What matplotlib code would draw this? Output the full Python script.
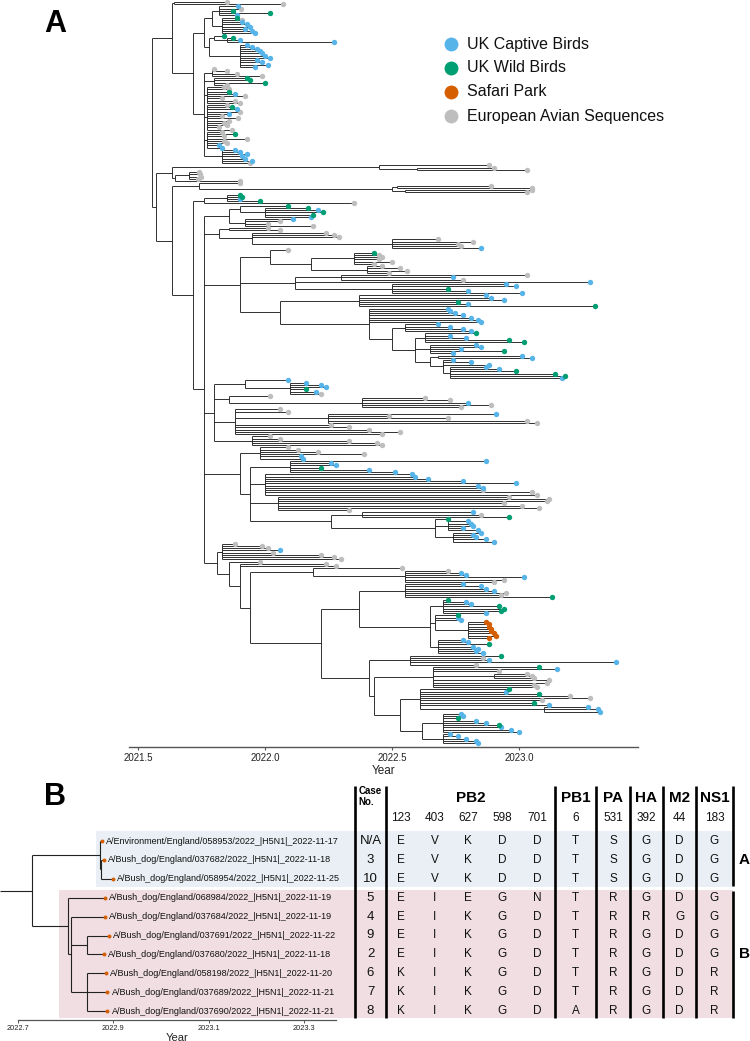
import datetime
import matplotlib
matplotlib.use("Agg")
import matplotlib.pyplot as plt
from matplotlib.collections import LineCollection

plt.rcParams["font.family"] = ["Liberation Sans", "DejaVu Sans"]

# ============================ DATA ============================
LEGEND_LABELS = ["UK Captive Birds", "UK Wild Birds", "Safari Park", "European Avian Sequences"]
CAT_KEYS = ["b", "w", "s", "e"]
CAT_COLORS = {"b": "#56B4E9", "w": "#009E73", "s": "#D55E00", "e": "#BEBEBE"}

TICKS_A = [2021.5, 2022.0, 2022.5, 2023.0]
TICKS_B = [2022.7, 2022.9, 2023.1, 2023.3]

# Panel A tree: internal node = [time, child, ...]; tip = (category, time)
TOP_SMALL = [2021.64, ("e", 2021.85), ("e", 2022.07)]

UPPER_CAPTIVE = [2021.76,
    [2021.79,
        [2021.82, ("b", 2021.895), ("e", 2021.905), ("w", 2021.875), ("w", 2022.02), ("b", 2021.89)],
        [2021.83, ("w", 2021.89), ("e", 2021.91), ("b", 2021.91), ("b", 2021.93), ("b", 2021.94),
                  ("b", 2021.92), ("b", 2021.95), ("b", 2021.96)]],
    [2021.78,
        [2021.80, ("w", 2021.84), [2021.85, ("w", 2021.875), ("b", 2021.90), ("b", 2022.27)]],
        [2021.90, ("b", 2021.93), ("b", 2021.95), ("b", 2021.97), ("b", 2021.98), ("b", 2021.99),
                  ("b", 2022.00), ("b", 2022.02), ("b", 2021.97), ("b", 2021.99), ("b", 2022.01), ("b", 2021.96)]]]

GRAY_CLUSTER = [2021.76,
    [2021.79, ("e", 2021.80), ("e", 2021.85), ("e", 2021.89), ("e", 2021.99)],
    [2021.80, ("w", 2021.93), ("w", 2021.94), ("w", 2022.00), ("e", 2021.85)],
    [2021.77, ("e", 2021.84), ("e", 2021.86), ("w", 2021.86), ("b", 2021.88), ("e", 2021.92),
              ("e", 2021.83), ("e", 2021.88), ("e", 2021.90)],
    [2021.77, ("e", 2021.85), ("w", 2021.87), ("b", 2021.89), ("e", 2021.90), ("b", 2021.86),
              ("e", 2021.83), ("e", 2021.895), ("e", 2021.86), ("e", 2021.84), ("e", 2021.85),
              ("e", 2021.82), ("e", 2021.87)],
    [2021.77, ("e", 2021.83), ("w", 2021.88), ("e", 2021.84), ("e", 2021.93), ("e", 2021.84),
              ("e", 2021.85), ("b", 2021.82), ("b", 2021.83)],
    [2021.83, ("b", 2021.88), ("b", 2021.90), ("b", 2021.93), ("b", 2021.91), ("b", 2021.92),
              ("b", 2021.95), ("e", 2021.94)]]

LONG_GRAY_1 = [2022.45, ("e", 2022.88), [2022.60, ("e", 2022.90), ("e", 2023.03)]]
SMALL_GRAY = [2021.645, [2021.70, ("e", 2021.74), ("e", 2021.745), ("e", 2021.75), ("e", 2021.735)],
              ("e", 2021.90)]
LONG_GRAY_2 = [2021.74, ("e", 2021.90),
               [2022.50, [2022.52, ("e", 2022.89), ("e", 2023.05)], [2022.55, ("e", 2023.05), ("e", 2023.03)]]]
WILD_TOP = [2021.76, [2021.85, ("w", 2021.90), ("w", 2021.91), ("b", 2021.90), ("w", 2021.98)],
            ("e", 2022.35)]

C1A = [2021.86,
       [2021.90, ("w", 2022.09),
        [2022.00, ("w", 2022.17), ("b", 2022.21), ("w", 2022.23), ("w", 2022.19), ("b", 2022.18)]],
       [2021.92, ("b", 2022.11), ("e", 2022.06), ("e", 2022.01), ("e", 2022.19)]]

C1B = [2021.82, [2021.86, ("e", 2022.01), ("e", 2022.06)],
       [2021.95, ("e", 2022.24), ("e", 2022.27), ("e", 2022.29),
        [2022.50, ("e", 2022.68), ("e", 2022.82), ("e", 2022.76), ("e", 2022.77), ("b", 2022.85)]]]

BLUE_C = [2022.50,
    [2022.55, ("b", 2022.68), ("b", 2022.73), ("b", 2022.78), ("b", 2022.81)],
    [2022.59,
        [2022.63, ("w", 2022.83), ("b", 2022.73), ("b", 2022.79), ("w", 2022.96), ("w", 2023.02)],
        [2022.65, ("b", 2022.83), ("b", 2022.85), ("b", 2022.77), ("w", 2022.94), ("b", 2022.74)],
        [2022.65, [2022.68, ("b", 2023.01), ("b", 2023.05)],
         [2022.70, ("b", 2022.74), ("b", 2022.81), ("b", 2022.88),
          [2022.73, ("b", 2022.87), ("b", 2022.92), ("w", 2022.99), ("w", 2023.14), ("w", 2023.18),
           ("b", 2023.17)]]]]]

C2 = [2021.90,
      [2022.02, ("e", 2022.09),
       [2022.18,
        [2022.35, ("w", 2022.43), ("e", 2022.45), ("e", 2022.46), ("e", 2022.45), ("e", 2022.50), ("e", 2022.43)],
        [2022.40, ("e", 2022.46), ("e", 2022.53), ("e", 2022.56), ("e", 2022.49)]]],
      [2022.12, [2022.30, ("e", 2023.03), ("b", 2022.74), ("e", 2022.78)], ("b", 2023.28),
       [2022.50, ("b", 2022.95), ("b", 2022.99), ("w", 2022.72), ("b", 2022.80), ("b", 2023.01)]],
      [2022.06,
       [2022.37, ("b", 2022.87), ("b", 2022.89), ("b", 2022.94), ("w", 2022.76), ("b", 2022.80), ("w", 2023.30)],
       [2022.41, ("b", 2022.72), ("b", 2022.73), ("b", 2022.75), ("b", 2022.78), ("b", 2022.81),
        ("b", 2022.84), ("b", 2022.85), BLUE_C]]]

C3 = [2021.80,
      [2021.92, ("b", 2022.09),
       [2022.10, ("b", 2022.16), ("b", 2022.22), ("b", 2022.24), ("w", 2022.16), ("b", 2022.20), ("e", 2022.22)]],
      [2021.86, ("e", 2022.02),
       [2022.38, ("e", 2022.63), ("e", 2022.73), ("b", 2022.80), ("e", 2022.89), ("e", 2022.77)]],
      [2021.88, ("e", 2022.06), ("e", 2022.09),
       [2022.25, ("b", 2022.91), ("e", 2022.49), ("e", 2022.72), ("e", 2023.03), ("e", 2023.07)],
       ("e", 2022.26), ("e", 2022.33), ("e", 2022.41), ("e", 2022.53), ("e", 2022.46)],
      [2021.95, ("e", 2022.02), ("e", 2022.06), ("e", 2022.33), ("e", 2022.44), ("e", 2022.46)]]

C4 = [2021.90,
      [2021.98, ("e", 2022.09), ("e", 2022.13), ("e", 2022.21), ("e", 2022.39), ("b", 2022.14), ("b", 2022.15)],
      [2021.94,
       [2022.10, ("b", 2022.87), ("b", 2022.26), ("b", 2022.28), ("w", 2022.22), ("b", 2022.41), ("b", 2022.51)],
       [2022.00, ("b", 2022.58), ("b", 2022.59), ("b", 2022.64), ("b", 2022.78), ("b", 2022.99),
        ("b", 2022.84), ("b", 2022.86), ("e", 2022.86), ("e", 2023.05), ("e", 2023.07)],
       [2022.05, ("e", 2022.96), ("e", 2023.12), ("e", 2023.11), ("e", 2022.94), ("e", 2023.01),
        ("e", 2023.08), ("e", 2022.33)],
       [2022.26, [2022.38, ("b", 2022.82), ("e", 2022.85), ("w", 2022.96)],
        [2022.67, ("w", 2022.72),
         [2022.72, ("b", 2022.80), ("b", 2022.81), ("b", 2022.82), ("b", 2022.78), ("b", 2022.84)],
         [2022.74, ("b", 2022.85), ("b", 2022.82), ("b", 2022.83), ("b", 2022.87), ("b", 2022.90)]]]]]

L1 = [2022.19, ("e", 2022.54),
      [2022.55, ("e", 2022.72), ("b", 2022.77), ("b", 2022.79), ("b", 2023.02), ("e", 2022.94), ("e", 2022.90)]]
L2 = [2022.55, ("b", 2022.78), ("b", 2022.85), ("b", 2022.87), ("b", 2022.90), ("e", 2022.95), ("e", 2022.93),
      ("w", 2023.13)]
L3 = [2022.70, ("w", 2022.72), ("b", 2022.79), ("b", 2022.81), ("w", 2022.92), ("w", 2022.94), ("w", 2022.93),
      ("b", 2022.87)]
L4 = [2022.67, ("w", 2022.76), ("b", 2022.76), ("b", 2022.77),
      [2022.80, ("s", 2022.87), ("s", 2022.88), ("s", 2022.88), ("s", 2022.89), ("s", 2022.89),
       ("s", 2022.90), ("s", 2022.91), ("s", 2022.88)]]
L5 = [2022.68, ("b", 2022.78), ("b", 2022.80), ("w", 2022.88), ("b", 2022.82), ("b", 2022.84), ("b", 2022.83),
      ("b", 2022.86)]
L6 = [2022.57, ("w", 2022.93), ("e", 2022.86), ("b", 2022.88), ("b", 2023.38), ("e", 2022.83)]
L7 = [2022.66, ("w", 2023.08), ("b", 2023.15), ("e", 2022.92), [2022.90, ("e", 2023.03), ("e", 2023.05), ("e", 2023.06)],
      ("e", 2023.12), ("e", 2023.11), ("e", 2023.06), ("e", 2023.07)]
L8 = [2022.61, ("w", 2022.96), ("b", 2022.95), ("w", 2023.08), ("e", 2023.20), ("e", 2023.28), ("e", 2023.09),
      ("w", 2023.06), ("b", 2023.12), [2023.10, ("b", 2023.27), ("b", 2023.31), ("b", 2023.32)]]
L9 = [2022.62,
      [2022.70, ("b", 2022.77), ("b", 2022.78), ("w", 2022.76), ("b", 2022.83), ("b", 2022.87), ("w", 2022.92),
       ("b", 2022.93), ("b", 2022.97), ("b", 2023.00)],
      [2022.70, ("b", 2022.73), ("b", 2022.76), ("b", 2022.79), ("b", 2022.83), ("b", 2022.84)]]

C5 = [2021.81,
      [2021.83, ("e", 2021.88), ("e", 2021.99), ("e", 2022.01), ("b", 2022.06), ("e", 2022.03), ("e", 2022.22),
       ("e", 2022.27), ("e", 2022.30)],
      [2021.86, ("e", 2021.98),
       [2021.90, ("e", 2022.24), ("e", 2022.28),
        [2021.94, L1,
         [2022.22,
          [2022.37, L2, [2022.65, L3, L4, L5]],
          [2022.41, L6, [2022.43, L7, [2022.53, L8, L9]]]]]]]]

TREE_A = [2021.555,
          [2021.634, TOP_SMALL, [2021.717, UPPER_CAPTIVE, GRAY_CLUSTER]],
          [2021.571,
           [2021.634, LONG_GRAY_1, SMALL_GRAY],
           [2021.634, LONG_GRAY_2,
            [2021.717, WILD_TOP, [2021.76, C1A, C1B, C2, C3, C4, C5]]]]]

# Panel B
CASE_NO = ["N/A", "3", "10", "5", "4", "9", "2", "6", "7", "8"]
STRAINS = ["A/Environment/England/058953/2022_|H5N1|_2022-11-17",
           "A/Bush_dog/England/037682/2022_|H5N1|_2022-11-18",
           "A/Bush_dog/England/058954/2022_|H5N1|_2022-11-25",
           "A/Bush_dog/England/068984/2022_|H5N1|_2022-11-19",
           "A/Bush_dog/England/037684/2022_|H5N1|_2022-11-19",
           "A/Bush_dog/England/037691/2022_|H5N1|_2022-11-22",
           "A/Bush_dog/England/037680/2022_|H5N1|_2022-11-18",
           "A/Bush_dog/England/058198/2022_|H5N1|_2022-11-20",
           "A/Bush_dog/England/037689/2022_|H5N1|_2022-11-21",
           "A/Bush_dog/England/037690/2022_|H5N1|_2022-11-21"]
DATES = ["2022-11-17", "2022-11-18", "2022-11-25", "2022-11-19", "2022-11-19",
         "2022-11-22", "2022-11-18", "2022-11-20", "2022-11-21", "2022-11-21"]
ROOT_STEM_B = 2022.662
TREE_B = [2022.729,
          [2022.872, 0, [2022.874, 1, 2]],
          [2022.805, 3, [2022.811, 4, [2022.845, 5, 6], [2022.845, 7, 8, 9]]]]

SEGMENTS = ["PB2", "PB1", "PA", "HA", "M2", "NS1"]
SEG_NCOLS = [5, 1, 1, 1, 1, 1]
POSITIONS = ["123", "403", "627", "598", "701", "6", "531", "392", "44", "183"]
RESIDUES = ["EEEEEEEKKK",   # PB2 123
            "VVVIIIIIII",   # PB2 403
            "KKKEKKKKKK",   # PB2 627
            "DDDGGGGGGG",   # PB2 598
            "DDDNDDDDDD",   # PB2 701
            "TTTTTTTTTA",   # PB1 6
            "SSSRRRRRRR",   # PA 531
            "GGGGRGGGGG",   # HA 392
            "DDDDGDDDDD",   # M2 44
            "GGGGGGGRRR"]   # NS1 183
GROUPS = [("A", 0, 2), ("B", 3, 9)]

# ============================ FIGURE ============================
W, H = 750, 1041
fig = plt.figure(figsize=(7.5, 10.41), dpi=100)


def fx(px):
    return px / W


def fy(py):
    return 1 - py / H


def layout(node, counter, segs, tips, tip_time):
    if not isinstance(node, list):
        y = counter[0]
        counter[0] += 1
        t = tip_time(node)
        tips.append((node, t, y))
        return t, y
    t0 = node[0]
    ys = []
    for ch in node[1:]:
        ct, cy = layout(ch, counter, segs, tips, tip_time)
        segs.append([(t0, cy), (ct, cy)])
        ys.append(cy)
    segs.append([(t0, min(ys)), (t0, max(ys))])
    return t0, (min(ys) + max(ys)) / 2


# overlay axes in pixel coordinates (bands, table, legend)
ov = fig.add_axes([0, 0, 1, 1], zorder=0)
ov.set_xlim(0, W)
ov.set_ylim(H, 0)
ov.axis("off")

# ---------------- Panel A ----------------
axA = fig.add_axes([fx(129), fy(747), fx(638) - fx(129), fy(0) - fy(747)], zorder=2)
axA.set_facecolor("none")
segsA, tipsA = [], []
layout(TREE_A, [0], segsA, tipsA, lambda tp: tp[1])
N = len(tipsA)
step = 741.0 / (N - 1)  # pixels per tip
axA.set_ylim(745.0 / step, -2.0 / step)
axA.set_xlim(2021.4646, 2023.4685)
axA.add_collection(LineCollection(segsA, colors="#222222", linewidths=0.65, capstyle="butt"))
for key in ["e", "b", "w", "s"]:
    pts = [(t, y) for (tp, t, y) in tipsA if tp[0] == key]
    axA.scatter([p[0] for p in pts], [p[1] for p in pts], s=15, color=CAT_COLORS[key],
                linewidths=0, zorder=3, clip_on=False)
for sp in ["top", "right", "left"]:
    axA.spines[sp].set_visible(False)
axA.spines["bottom"].set_color("#555555")
axA.spines["bottom"].set_linewidth(1.0)
axA.set_yticks([])
axA.set_xticks(TICKS_A)
axA.set_xticklabels([f"{t:.1f}" for t in TICKS_A])
axA.tick_params(axis="x", length=2.5, width=0.8, color="#555555", labelsize=7, pad=2,
                labelcolor="#222222")
axA.set_xlabel("Year", fontsize=8.5, labelpad=1.5, color="#222222")

fig.text(fx(55), fy(24), "A", fontsize=22, fontweight="bold", ha="center", va="center")

# legend
for k, (lab, key) in enumerate(zip(LEGEND_LABELS, CAT_KEYS)):
    yy = 44 + 24 * k
    ov.plot([451], [yy], "o", ms=10, color=CAT_COLORS[key], mec="none")
    ov.text(467, yy, lab, fontsize=11.5, va="center", ha="left", color="#111111")

# ---------------- Panel B ----------------
def dec_year(s):
    d = datetime.date.fromisoformat(s)
    return d.year + (d.timetuple().tm_yday - 1) / 365.0


DEC = [dec_year(s) for s in DATES]
ROW0, ROWSTEP = 841.0, 18.9

fig.text(fx(55), fy(797), "B", fontsize=22, fontweight="bold", ha="center", va="center")

# bands
ov.add_patch(plt.Rectangle((96, 831), 733 - 96, 887 - 831, color="#E9EFF4", lw=0, zorder=0))
ov.add_patch(plt.Rectangle((59, 890), 733 - 59, 1018 - 890, color="#F0DEE2", lw=0, zorder=0))

axB = fig.add_axes([fx(18), fy(1020), fx(336) - fx(18), fy(831) - fy(1020)], zorder=2)
axB.set_facecolor("none")
axB.set_xlim(2022.7, 2023.367)
axB.set_ylim((1020 - ROW0) / ROWSTEP, (831 - ROW0) / ROWSTEP)
segsB, tipsB = [], []
rt, ry = layout(TREE_B, [0], segsB, tipsB, lambda i: DEC[i])
segsB.append([(ROOT_STEM_B, ry), (rt, ry)])
axB.add_collection(LineCollection(segsB, colors="#222222", linewidths=0.8, capstyle="butt",
                                  clip_on=False))
for (i, t, y) in tipsB:
    axB.scatter([t], [y], s=8, color=CAT_COLORS["s"], linewidths=0, zorder=3, clip_on=False)
    axB.text(t + 0.0085, y, STRAINS[i], fontsize=6.5, va="center", ha="left", color="#111111",
             clip_on=False)
for sp in ["top", "right", "left"]:
    axB.spines[sp].set_visible(False)
axB.spines["bottom"].set_color("#555555")
axB.spines["bottom"].set_linewidth(0.9)
axB.set_yticks([])
axB.set_xticks(TICKS_B)
axB.set_xticklabels([f"{t:.1f}" for t in TICKS_B])
axB.tick_params(axis="x", length=2, width=0.7, color="#555555", labelsize=5.3, pad=1.5,
                labelcolor="#222222")
axB.set_xlabel("Year", fontsize=8, labelpad=0.5, color="#222222")

# table
COL_X = [401, 435, 468, 502, 537, 575.5, 613, 646.5, 679.5, 714.5]
BARS = [355, 386, 555, 596, 630, 663, 696]
for bx in BARS:
    ov.plot([bx, bx], [786, 1018], color="black", lw=1.9, solid_capstyle="butt")
ov.plot([733, 733], [786, 886], color="black", lw=1.9, solid_capstyle="butt")
ov.plot([733, 733], [891, 1018], color="black", lw=1.9, solid_capstyle="butt")

ov.text(370.5, 791, "Case", fontsize=7, fontweight="bold", ha="center", va="center")
ov.text(366, 802, "No.", fontsize=7, fontweight="bold", ha="center", va="center")

ci = 0
for seg, nc in zip(SEGMENTS, SEG_NCOLS):
    cx = sum(COL_X[ci:ci + nc]) / nc
    if nc > 1:
        cx = (386 + 555) / 2
    ov.text(cx, 798, seg, fontsize=11, fontweight="bold", ha="center", va="center")
    ci += nc
for cx, pos in zip(COL_X, POSITIONS):
    ov.text(cx, 818, pos, fontsize=8.5, ha="center", va="center", color="#111111")
for r, cn in enumerate(CASE_NO):
    yy = ROW0 + ROWSTEP * r
    ov.text(370.5, yy, cn, fontsize=9.5, ha="center", va="center", color="#111111")
    for cx, col in zip(COL_X, RESIDUES):
        ov.text(cx, yy, col[r], fontsize=8.5, ha="center", va="center", color="#111111")
for lab, r0, r1 in GROUPS:
    yy = ROW0 + ROWSTEP * (r0 + r1) / 2
    ov.text(744, yy, lab, fontsize=11, fontweight="bold", ha="center", va="center")

fig.savefig("out.png", dpi=100)
